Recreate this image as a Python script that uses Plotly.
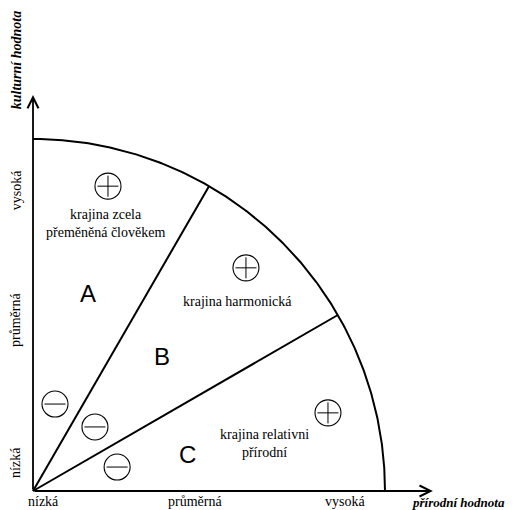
import numpy as np
import plotly.graph_objects as go

# ---- data (diagram space: origin = nízká/nízká, radius of arc = 1) ----
arc_radius = 1.0
boundary_angles_deg = [30, 60]
axis_tip_x = 1.136
axis_tip_y = 1.125

x_tick_labels = ["nízká", "průměrná", "vysoká"]
x_tick_pos = [0.031, 0.46, 0.886]
y_tick_labels = ["nízká", "průměrná", "vysoká"]
y_tick_pos = [0.080, 0.486, 0.855]

x_title = "přírodní hodnota"
y_title = "kulturní hodnota"

region_letters = ["A", "B", "C"]
region_letter_x = [0.156, 0.366, 0.440]
region_letter_y = [0.5625, 0.381, 0.105]

region_texts = ["krajina zcela<br>přeměněná člověkem", "krajina harmonická",
                "krajina relativni<br>přírodní"]
region_text_x = [0.207, 0.582, 0.659]
region_text_y = [0.761, 0.537, 0.136]

plus_x = [0.213, 0.605, 0.838]
plus_y = [0.866, 0.634, 0.222]
minus_x = [0.0625, 0.176, 0.239]
minus_y = [0.247, 0.182, 0.068]

# ---- figure ----
SERIF = "Liberation Serif, Times New Roman, serif"
SANS = "Liberation Sans, Arial, sans-serif"
fig = go.Figure()

theta = np.radians(np.linspace(0, 90, 300))
fig.add_trace(go.Scatter(x=arc_radius * np.cos(theta), y=arc_radius * np.sin(theta),
                         mode="lines", line=dict(color="black", width=2),
                         hoverinfo="skip", cliponaxis=False))
for a in boundary_angles_deg:
    r = np.radians(a)
    fig.add_trace(go.Scatter(x=[0, arc_radius * np.cos(r)], y=[0, arc_radius * np.sin(r)],
                             mode="lines", line=dict(color="black", width=2),
                             hoverinfo="skip", cliponaxis=False))

# circled signs
fig.add_trace(go.Scatter(x=plus_x + minus_x, y=plus_y + minus_y, mode="markers",
                         marker=dict(symbol="circle-open", size=26, color="black",
                                     line=dict(width=1.1, color="black")),
                         hoverinfo="skip", cliponaxis=False))
fig.add_trace(go.Scatter(x=plus_x, y=plus_y, mode="markers",
                         marker=dict(symbol="cross-thin-open", size=15, color="black",
                                     line=dict(width=1.0, color="black")),
                         hoverinfo="skip", cliponaxis=False))
fig.add_trace(go.Scatter(x=minus_x, y=minus_y, mode="markers",
                         marker=dict(symbol="line-ew-open", size=15, color="black",
                                     line=dict(width=1.0, color="black")),
                         hoverinfo="skip", cliponaxis=False))

ann = []
# axis arrows
ann.append(dict(x=axis_tip_x, y=0, ax=0, ay=0, xref="x", yref="y", axref="x", ayref="y",
                text="", showarrow=True, arrowhead=5, arrowsize=1.2, arrowwidth=1.8,
                arrowcolor="black"))
ann.append(dict(x=0, y=axis_tip_y, ax=0, ay=0, xref="x", yref="y", axref="x", ayref="y",
                text="", showarrow=True, arrowhead=5, arrowsize=1.2, arrowwidth=1.8,
                arrowcolor="black"))

tick_font = dict(family=SERIF, size=14, color="black")
for t, p in zip(x_tick_labels, x_tick_pos):
    ann.append(dict(x=p, y=-0.031, xref="x", yref="y", text=t, showarrow=False,
                    font=tick_font))
for t, p in zip(y_tick_labels, y_tick_pos):
    ann.append(dict(x=-0.048, y=p, xref="x", yref="y", text=t, showarrow=False,
                    font=tick_font, textangle=-90))

ann.append(dict(x=0.985, y=-0.034, xref="paper", yref="y", xanchor="right",
                text=f"<b><i>{x_title}</i></b>", showarrow=False,
                font=dict(family=SERIF, size=13, color="black")))
ann.append(dict(x=-0.048, y=1.224, xref="x", yref="y", text=f"<b><i>{y_title}</i></b>",
                showarrow=False, font=dict(family=SERIF, size=14, color="black"),
                textangle=-90))

for t, x, y in zip(region_letters, region_letter_x, region_letter_y):
    ann.append(dict(x=x, y=y, xref="x", yref="y", text=t, showarrow=False,
                    font=dict(family=SANS, size=24, color="black")))
for t, x, y in zip(region_texts, region_text_x, region_text_y):
    ann.append(dict(x=x, y=y, xref="x", yref="y", text=t, showarrow=False,
                    font=dict(family=SERIF, size=14, color="black")))

# the page body has an 8px margin, so the figure is 507x502 and origin sits at (25, 483)
S = 352.0
fig.update_layout(
    width=507, height=502,
    margin=dict(l=0, r=0, t=0, b=0),
    paper_bgcolor="white", plot_bgcolor="white",
    showlegend=False,
    xaxis=dict(range=[-25 / S, 482 / S], visible=False, fixedrange=True),
    yaxis=dict(range=[-19 / S, 483 / S], visible=False, fixedrange=True),
    annotations=ann,
)
fig.write_html("out.html")
